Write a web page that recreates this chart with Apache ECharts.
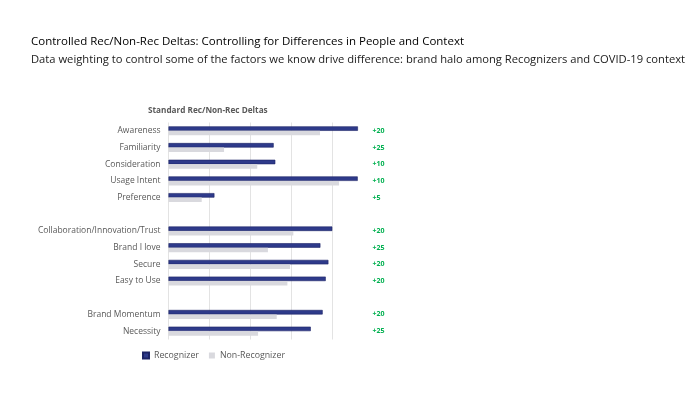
<!DOCTYPE html>
<html><head><meta charset="utf-8">
<script src="https://cdn.jsdelivr.net/npm/echarts@6/dist/echarts.min.js"></script>
<style>html,body{margin:0;padding:0;background:#fff}#c{width:700px;height:395px}</style>
</head><body><div id="c"></div>
<script>
var categories = ['Awareness','Familiarity','Consideration','Usage Intent','Preference',' ',
  'Collaboration/Innovation/Trust','Brand I love','Secure','Easy to Use','  ',
  'Brand Momentum','Necessity'];
var recognizer = [92.4, 51.3, 52.1, 92.3, 22.4, null, 79.9, 74.1, 78.0, 76.7, null, 75.2, 69.4];
var nonRecognizer = [73.9, 27.1, 43.3, 83.2, 16.2, null, 60.9, 48.5, 59.3, 58.0, null, 52.8, 43.7];
var deltas = ['+20','+25','+10','+10','+5','','+20','+25','+20','+20','','+20','+25'];

var FONT = '"Open Sans", "Noto Sans", sans-serif';
var chart = echarts.init(document.getElementById('c'), null, {renderer:'canvas'});
chart.setOption({
  animation: false,
  backgroundColor: '#ffffff',
  title: [
    {text: 'Controlled Rec/Non-Rec Deltas: Controlling for Differences in People and Context',
     left: 26, top: 31, textStyle: {fontFamily: FONT, fontSize: 11.5, fontWeight: 'normal', color: '#000'}},
    {text: 'Data weighting to control some of the factors we know drive difference: brand halo among Recognizers and COVID-19 context',
     left: 26, top: 49, textStyle: {fontFamily: FONT, fontSize: 11.2, fontWeight: 'normal', color: '#1a1a1a'}},
    {text: 'Standard Rec/Non-Rec Deltas', left: 143, top: 102,
     textStyle: {fontFamily: FONT, fontSize: 8.2, fontWeight: 'bold', color: '#595959'}}
  ],
  legend: {
    left: 137, top: 346, itemWidth: 6, itemHeight: 6, itemGap: 10,
    icon: 'rect',
    textStyle: {fontFamily: FONT, fontSize: 8.8, color: '#595959'},
    data: ['Recognizer','Non-Recognizer']
  },
  grid: {left: 168.5, top: 122.5, width: 205, height: 217, containLabel: false},
  xAxis: {
    type: 'value', min: 0, max: 100, interval: 20,
    axisLabel: {show: false}, axisLine: {show: false}, axisTick: {show: false},
    splitLine: {show: true, showMaxLine: false, lineStyle: {color: '#e3e3e3', width: 1}}
  },
  yAxis: [
    {type: 'category', inverse: true, data: categories,
     axisLine: {show: false}, axisTick: {show: false},
     axisLabel: {fontFamily: FONT, fontSize: 8.5, color: '#595959', margin: 8}},
    {type: 'category', inverse: true, position: 'right', data: categories,
     axisLine: {show: false}, axisTick: {show: false},
     axisLabel: {fontFamily: FONT, fontSize: 7, fontWeight: 'bold', color: '#00b050', margin: -1,
       formatter: function(v, i){ return deltas[i]; }}}
  ],
  series: [
    {name: 'Recognizer', type: 'bar', data: recognizer, barWidth: 4.5, barGap: '0%',
     itemStyle: {color: '#2e3a8a', borderColor: '#1c2366', borderWidth: 0.6}},
    {name: 'Non-Recognizer', type: 'bar', data: nonRecognizer, barWidth: 4.5,
     itemStyle: {color: '#d9d9de'}}
  ]
});
</script></body></html>
